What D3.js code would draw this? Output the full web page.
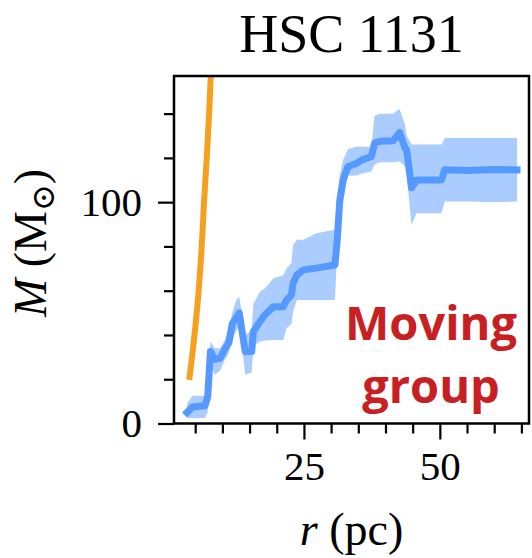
<!DOCTYPE html>
<html>
<head>
<meta charset="utf-8">
<script src="https://cdn.jsdelivr.net/npm/d3@7"></script>
<style>
  html, body { margin: 0; padding: 0; background: #fff; }
  svg { display: block; }
</style>
</head>
<body>
<div id="chart"></div>
<script>
// Enclosed mass profile of HSC 1131: median curve with its uncertainty band,
// plus the reference (orange) mass curve.
const title = "HSC 1131";

const rVals = [3.5, 4.5, 6.8, 7.3, 7.8, 8.6, 9.6, 10.3, 11.2, 11.8, 12.6, 13.1, 13.6, 14.2, 15.4, 15.7,
  16.9, 17.8, 19.4, 21.2, 21.8, 22.7, 23.0, 23.7, 24.9, 27.3, 30.7, 31.1, 31.6, 32.2, 33.1, 34.7,
  35.6, 37.4, 38.0, 39.0, 41.4, 42.3, 42.6, 43.6, 43.9, 44.8, 45.7, 50.3, 50.9, 55.0, 60.0, 64.2];
const massMid = [5, 7.5, 8, 12, 32.5, 29, 29.5, 33, 36.5, 45, 48, 50, 42, 32.5, 32.5, 41.5,
  46, 49, 52.8, 52.8, 55.8, 58, 63.4, 67.1, 69.4, 70.2, 71.6, 82, 101, 110, 116, 117.6,
  119, 120.6, 126.7, 127.5, 127.8, 130.4, 131.5, 124.4, 123.6, 106.5, 110, 110, 114.6, 114.3, 114.8, 114.6];
const massLo = [2.5, 2.5, 2.5, 5, 26, 22, 24, 28, 32, 38, 42, 44, 35, 22, 23, 35,
  37, 37.5, 37.7, 37.7, 43, 45, 50.5, 55.8, 55.8, 55.8, 55.8, 76, 98, 100.3, 112, 112,
  113, 113.8, 117, 118, 118, 118.4, 118.4, 116, 112, 89.7, 95, 95, 100.3, 100.3, 100, 100.3];
const massHi = [9, 12.5, 12.5, 17, 37, 34, 34, 37, 42, 50, 56, 57, 50, 40, 42, 54,
  59.5, 61, 65.6, 67, 70, 72.5, 80.7, 83, 83, 86, 87.5, 90, 112, 119, 124, 125,
  125, 125, 139, 140, 140, 141.7, 142, 135, 130, 126, 126, 126, 129, 129, 129, 129];

const rRef = [3.9, 4.65, 5.6, 6.2, 6.6, 7.1, 7.6, 8.0];
const massRef = [19.7, 35, 59, 80, 99, 119, 142, 165];

const xMajor = [25, 50];
const xMinor = [5, 10, 15, 20, 30, 35, 40, 45, 55, 60, 65];
const yMajor = [0, 100];
const yMinor = [20, 40, 60, 80, 120, 140];

const W = 532, H = 558;
const plot = { left: 174, right: 529, top: 76, bottom: 423.5 };

const svg = d3.select("#chart").append("svg")
  .attr("width", W).attr("height", H);

const x = d3.scaleLinear().domain([1.1, 66.4]).range([plot.left, plot.right]);
const y = d3.scaleLinear().domain([0, 157]).range([plot.bottom, plot.top]);

const serif = "'Liberation Serif', 'DejaVu Serif', serif";

svg.append("defs").append("clipPath").attr("id", "plotclip")
  .append("rect")
  .attr("x", plot.left).attr("y", plot.top)
  .attr("width", plot.right - plot.left).attr("height", plot.bottom - plot.top);

const g = svg.append("g").attr("clip-path", "url(#plotclip)");

const profile = rVals.map((r, i) => ({ r, mid: massMid[i], lo: massLo[i], hi: massHi[i] }));

// uncertainty band
g.append("path")
  .datum(profile)
  .attr("d", d3.area().x(d => x(d.r)).y0(d => y(d.lo)).y1(d => y(d.hi)))
  .attr("fill", "#5599ff").attr("fill-opacity", 0.5);

// median profile
g.append("path")
  .datum(profile)
  .attr("d", d3.line().x(d => x(d.r)).y(d => y(d.mid)))
  .attr("fill", "none").attr("stroke", "#5599ff")
  .attr("stroke-width", 7).attr("stroke-linejoin", "round").attr("stroke-linecap", "square");

// reference curve
g.append("path")
  .datum(rRef.map((r, i) => ({ r, m: massRef[i] })))
  .attr("d", d3.line().x(d => x(d.r)).y(d => y(d.m)).curve(d3.curveMonotoneX))
  .attr("fill", "none").attr("stroke", "#f7a01e")
  .attr("stroke-width", 6).attr("stroke-linecap", "butt");

// frame
svg.append("rect")
  .attr("x", plot.left).attr("y", plot.top)
  .attr("width", plot.right - plot.left).attr("height", plot.bottom - plot.top)
  .attr("fill", "none").attr("stroke", "#000").attr("stroke-width", 2.5);

function styleAxis(sel) {
  sel.select(".domain").remove();
  sel.selectAll(".tick line").attr("stroke", "#000").attr("stroke-width", 2.2);
  sel.selectAll(".tick text").attr("font-family", serif).attr("font-size", 41).attr("fill", "#000");
}

// x axis
svg.append("g").attr("transform", `translate(0,${plot.bottom})`)
  .call(d3.axisBottom(x).tickValues(xMinor).tickSize(10).tickFormat(""))
  .call(styleAxis);
svg.append("g").attr("transform", `translate(0,${plot.bottom})`)
  .call(d3.axisBottom(x).tickValues(xMajor).tickSize(16).tickPadding(11).tickFormat(d3.format("d")))
  .call(styleAxis);

// y axis
svg.append("g").attr("transform", `translate(${plot.left},0)`)
  .call(d3.axisLeft(y).tickValues(yMinor).tickSize(10).tickFormat(""))
  .call(styleAxis);
svg.append("g").attr("transform", `translate(${plot.left},0)`)
  .call(d3.axisLeft(y).tickValues(yMajor).tickSize(16).tickPadding(16).tickFormat(d3.format("d")))
  .call(styleAxis);

// title
svg.append("text")
  .attr("x", (plot.left + plot.right) / 2).attr("y", 52)
  .attr("text-anchor", "middle")
  .attr("font-family", serif).attr("font-size", 54)
  .text(title);

// x label
const xl = svg.append("text")
  .attr("x", (plot.left + plot.right) / 2).attr("y", 545)
  .attr("text-anchor", "middle")
  .attr("font-family", serif).attr("font-size", 46);
xl.append("tspan").attr("font-style", "italic").text("r");
xl.append("tspan").text(" (pc)");

// y label
const yl = svg.append("text")
  .attr("transform", "translate(46,243) rotate(-90)")
  .attr("text-anchor", "middle")
  .attr("font-family", serif).attr("font-size", 46);
yl.append("tspan").attr("font-style", "italic").text("M");
yl.append("tspan").text(" (M");
yl.append("tspan").attr("dy", 8).attr("font-size", 32).text("⊙");
yl.append("tspan").attr("dy", -8).text(")");

// annotation
const note = svg.append("text")
  .attr("text-anchor", "middle")
  .attr("font-family", "'Open Sans', 'Noto Sans', sans-serif")
  .attr("font-weight", 700).attr("font-size", 47)
  .attr("fill", "#c82022");
note.append("tspan").attr("x", 431).attr("y", 340).text("Moving");
note.append("tspan").attr("x", 431).attr("y", 403).text("group");
</script>
</body>
</html>
